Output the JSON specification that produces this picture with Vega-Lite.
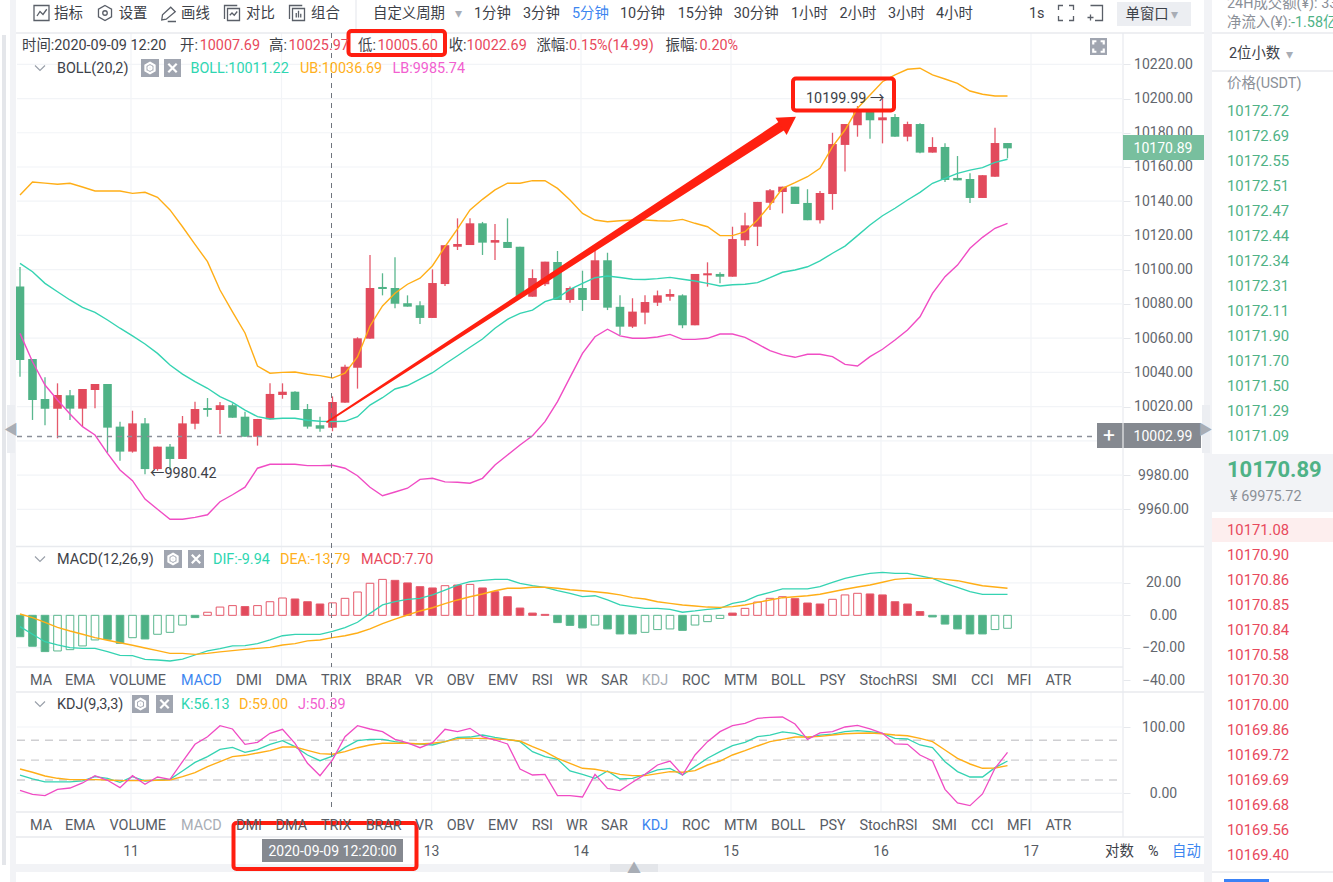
{
"$schema":"https://vega.github.io/schema/vega-lite/v6.json",
"width":1333,"height":882,"padding":0,"autosize":{"type":"none"},"background":"#ffffff",
"config":{"view":{"stroke":null},"text":{"font":"Roboto, 'Noto Sans CJK SC', sans-serif","dy":1},"axis":{"title":null,"grid":false,"domain":false,"labelFont":"Roboto","labelFontSize":14,"labelColor":"#63676e","tickColor":"#e6e8ec","tickSize":7,"labelAlign":"center","labelBaseline":"middle","labelPadding":33,"format":".2f","labelOverlap":false,"labelBound":false}},
"datasets":{
"bars":[
{"bar":0,"open":10090.1,"close":10047.2,"high":10101.6,"low":10037.5,"boll":10103.7,"ub":10143.6,"lb":10062.8,"macd":-13.2,"dif":-7,"dea":0.8,"k":27.6,"d":36.7,"j":4.5},
{"bar":1,"open":10047.8,"close":10023.9,"high":10047.8,"low":10012.2,"boll":10098.8,"ub":10151.2,"lb":10046.2,"macd":-19.1,"dif":-11.7,"dea":-1.4,"k":21.6,"d":31.7,"j":-1.5},
{"bar":2,"open":10024.4,"close":10018.8,"high":10037.1,"low":10009.1,"boll":10092,"ub":10150.6,"lb":10032.6,"macd":-22.4,"dif":-16.3,"dea":-4.3,"k":17.1,"d":26.1,"j":-3.5},
{"bar":3,"open":10018.8,"close":10026.8,"high":10033.6,"low":10001.5,"boll":10087.1,"ub":10149.9,"lb":10023.9,"macd":-22,"dif":-18.3,"dea":-7.4,"k":17.1,"d":22.6,"j":6,"hollow":true},
{"bar":4,"open":10026.6,"close":10018.8,"high":10029.7,"low":10012.2,"boll":10082.3,"ub":10150.5,"lb":10015.7,"macd":-21.2,"dif":-20,"dea":-9.7,"k":17.1,"d":20.6,"j":8,"hollow":true},
{"bar":5,"open":10018.8,"close":10030.3,"high":10030.3,"low":10008.3,"boll":10078,"ub":10148.3,"lb":10008.3,"macd":-18.9,"dif":-20.4,"dea":-11.7,"k":18.6,"d":20.6,"j":15.6,"hollow":true},
{"bar":6,"open":10029.7,"close":10033.2,"high":10033.2,"low":10019,"boll":10075.1,"ub":10146,"lb":10003.4,"macd":-15.2,"dif":-20.4,"dea":-13.8,"k":25.1,"d":20.6,"j":26.6,"hollow":true},
{"bar":7,"open":10033.2,"close":10007.7,"high":10033.2,"low":9993.1,"boll":10070.6,"ub":10146,"lb":9992.7,"macd":-14.8,"dif":-22.4,"dea":-15.4,"k":22.6,"d":20.1,"j":19.6},
{"bar":8,"open":10008.3,"close":9993.7,"high":10011.2,"low":9988.4,"boll":10065.8,"ub":10146,"lb":9983,"macd":-17.3,"dif":-24.7,"dea":-16.9,"k":16.6,"d":19.1,"j":8.5},
{"bar":9,"open":9993.7,"close":10010.2,"high":10017.6,"low":9993.1,"boll":10061.3,"ub":10144.6,"lb":9976.7,"macd":-13.8,"dif":-24.9,"dea":-18.5,"k":25.1,"d":19.1,"j":26.6,"hollow":true},
{"bar":10,"open":10010.2,"close":9983.5,"high":10013.3,"low":9980.42,"boll":10056.6,"ub":10145.2,"lb":9966,"macd":-14.6,"dif":-27.2,"dea":-20.2,"k":18.6,"d":19.1,"j":13.6},
{"bar":11,"open":9983.5,"close":9996.6,"high":9996.6,"low":9982.5,"boll":10051.1,"ub":10142.3,"lb":9960,"macd":-11.7,"dif":-27.6,"dea":-21.8,"k":20.1,"d":19.6,"j":24.6,"hollow":true},
{"bar":12,"open":9996.6,"close":9989.4,"high":9998.2,"low":9983,"boll":10044.3,"ub":10134.9,"lb":9954.2,"macd":-10.5,"dif":-28.2,"dea":-23.5,"k":21.1,"d":20.1,"j":21.1,"hollow":true},
{"bar":13,"open":9989.4,"close":10010.2,"high":10014.5,"low":9989.4,"boll":10039,"ub":10125.1,"lb":9954.2,"macd":-6,"dif":-27,"dea":-23.5,"k":33.7,"d":25.1,"j":47.7,"hollow":true},
{"bar":14,"open":10010,"close":10018.6,"high":10022.9,"low":10006.7,"boll":10034.6,"ub":10114.8,"lb":9955.3,"macd":-1.4,"dif":-24.5,"dea":-24.1,"k":46.7,"d":31.2,"j":73.9},
{"bar":15,"open":10019.2,"close":10018,"high":10025,"low":10014.1,"boll":10030.7,"ub":10104.7,"lb":9956.8,"macd":1.9,"dif":-22,"dea":-23.5,"k":55.3,"d":40.2,"j":85.4,"hollow":true},
{"bar":16,"open":10018,"close":10020.8,"high":10022.7,"low":10004,"boll":10025.8,"ub":10088.1,"lb":9964.4,"macd":5.1,"dif":-20.6,"dea":-22.6,"k":66.3,"d":47.7,"j":102,"hollow":true},
{"bar":17,"open":10020.8,"close":10013.5,"high":10021.9,"low":10013.5,"boll":10022.5,"ub":10075.4,"lb":9968.5,"macd":6,"dif":-18.9,"dea":-21.8,"k":69.3,"d":55.3,"j":97,"hollow":true},
{"bar":18,"open":10014.1,"close":10002.4,"high":10017,"low":10002.4,"boll":10018,"ub":10063,"lb":9972.9,"macd":5.4,"dif":-18.7,"dea":-21,"k":61.8,"d":57.3,"j":73.9},
{"bar":19,"open":10002.4,"close":10012.8,"high":10012.8,"low":9997.2,"boll":10014.1,"ub":10043.7,"lb":9984,"macd":6,"dif":-17.5,"dea":-20.4,"k":65.8,"d":60.8,"j":76.9,"hollow":true},
{"bar":20,"open":10012.6,"close":10027.4,"high":10033.6,"low":10012.6,"boll":10012.8,"ub":10039.5,"lb":9986.3,"macd":8.4,"dif":-15.2,"dea":-19.8,"k":73.9,"d":64.3,"j":90.5,"hollow":true},
{"bar":21,"open":10026.8,"close":10028.7,"high":10033.6,"low":10024.6,"boll":10013.2,"ub":10040,"lb":9986.3,"macd":10.7,"dif":-12.6,"dea":-18.3,"k":79.4,"d":69.8,"j":96.5,"hollow":true},
{"bar":22,"open":10028.7,"close":10018,"high":10029,"low":10018,"boll":10013.2,"ub":10040.2,"lb":9986.3,"macd":10.1,"dif":-11.7,"dea":-17.5,"k":70.4,"d":69.8,"j":75.4},
{"bar":23,"open":10018.6,"close":10008.3,"high":10021.5,"low":10007.1,"boll":10012,"ub":10038.9,"lb":9985.5,"macd":8.4,"dif":-11.7,"dea":-15.8,"k":57.8,"d":64.8,"j":45.2},
{"bar":24,"open":10009.1,"close":10007.1,"high":10014.1,"low":10005.3,"boll":10011.4,"ub":10038.1,"lb":9985.5,"macd":7,"dif":-11.7,"dea":-15.2,"k":49.2,"d":59.8,"j":26.6},
{"bar":25,"open":10007.69,"close":10022.69,"high":10025.97,"low":10005.6,"boll":10011.22,"ub":10036.69,"lb":9985.74,"macd":7.7,"dif":-9.94,"dea":-13.79,"k":56.13,"d":59,"j":50.39,"hollow":true},
{"bar":26,"open":10022.3,"close":10043.3,"high":10044.5,"low":10022.3,"boll":10011.4,"ub":10039.5,"lb":9984,"macd":10.5,"dif":-7.6,"dea":-12.6,"k":69.3,"d":62.8,"j":85.4,"hollow":true},
{"bar":27,"open":10042.7,"close":10059.9,"high":10060.5,"low":10030.5,"boll":10014.1,"ub":10049,"lb":9979.6,"macd":14.4,"dif":-4.3,"dea":-10.9,"k":79.4,"d":68.8,"j":102,"hollow":true},
{"bar":28,"open":10059.7,"close":10089.3,"high":10108.6,"low":10059.7,"boll":10020.9,"ub":10067.1,"lb":9972.9,"macd":19.8,"dif":1.2,"dea":-8.4,"k":81.4,"d":72.9,"j":97,"hollow":true},
{"bar":29,"open":10089.9,"close":10088.7,"high":10097.9,"low":10085,"boll":10025.2,"ub":10078.8,"lb":9967.9,"macd":22.2,"dif":6.4,"dea":-5.1,"k":81.4,"d":75.4,"j":93,"hollow":true},
{"bar":30,"open":10089.3,"close":10080.1,"high":10107.2,"low":10077.4,"boll":10030.3,"ub":10086.2,"lb":9970.1,"macd":21.6,"dif":8.4,"dea":-2.3,"k":77.9,"d":75.4,"j":81.4},
{"bar":31,"open":10080.4,"close":10078.4,"high":10085,"low":10078.4,"boll":10032.3,"ub":10091.5,"lb":9972.3,"macd":20,"dif":9.9,"dea":0.2,"k":75.4,"d":75.4,"j":75.9},
{"bar":32,"open":10079.2,"close":10071.8,"high":10081.5,"low":10068.3,"boll":10036,"ub":10095,"lb":9977.5,"macd":17.7,"dif":10.5,"dea":2.7,"k":74.4,"d":74.4,"j":68.8},
{"bar":33,"open":10071.8,"close":10092.2,"high":10100.2,"low":10071.8,"boll":10039.8,"ub":10102.3,"lb":9978.1,"macd":16.9,"dif":12.6,"dea":4.7,"k":72.9,"d":75.4,"j":76.4},
{"bar":34,"open":10091.6,"close":10114.3,"high":10114.3,"low":10090.5,"boll":10044.9,"ub":10113.4,"lb":9976,"macd":18.3,"dif":15.6,"dea":7.2,"k":77.9,"d":77.9,"j":96.5,"hollow":true},
{"bar":35,"open":10113.4,"close":10115,"high":10130,"low":10111.5,"boll":10049.7,"ub":10123.8,"lb":9975.8,"macd":18.7,"dif":18.7,"dea":9.5,"k":84.4,"d":82.4,"j":93},
{"bar":36,"open":10114.4,"close":10127.1,"high":10130,"low":10114.4,"boll":10054.7,"ub":10134.9,"lb":9975.2,"macd":19.1,"dif":20.8,"dea":11.5,"k":84.9,"d":82.9,"j":98,"hollow":true},
{"bar":37,"open":10127.1,"close":10115.8,"high":10127.9,"low":10108.6,"boll":10059.5,"ub":10141.1,"lb":9978.1,"macd":16.9,"dif":21.6,"dea":13.2,"k":87.9,"d":82.9,"j":85.4},
{"bar":38,"open":10115.8,"close":10117.3,"high":10126.7,"low":10105.7,"boll":10065.8,"ub":10146.6,"lb":9985.9,"macd":14.6,"dif":22.2,"dea":15.2,"k":84.4,"d":81.9,"j":80.4},
{"bar":39,"open":10116.2,"close":10112.7,"high":10130,"low":10112.7,"boll":10071,"ub":10150.5,"lb":9991.7,"macd":11.5,"dif":22.2,"dea":16.7,"k":81.4,"d":80.9,"j":74.4},
{"bar":40,"open":10113.4,"close":10084.2,"high":10113.4,"low":10084.2,"boll":10074.5,"ub":10150.5,"lb":9997.6,"macd":4.5,"dif":19.8,"dea":16.7,"k":77.9,"d":78.9,"j":36.7},
{"bar":41,"open":10084.2,"close":10095.1,"high":10100.2,"low":10084.2,"boll":10076.4,"ub":10152,"lb":10003,"macd":1.4,"dif":18.3,"dea":17.3,"k":62.8,"d":70.4,"j":27.6},
{"bar":42,"open":10091.5,"close":10104.7,"high":10104.7,"low":10090.5,"boll":10081.3,"ub":10152,"lb":10011.2,"macd":0.6,"dif":17.3,"dea":17.3,"k":55.3,"d":62.8,"j":28.6},
{"bar":43,"open":10104.5,"close":10082.3,"high":10110.9,"low":10082.3,"boll":10083.6,"ub":10147.5,"lb":10022.9,"macd":-4.5,"dif":15.2,"dea":16.7,"k":51.3,"d":52.8,"j":-3.5},
{"bar":44,"open":10082.3,"close":10089.3,"high":10090.1,"low":10080.7,"boll":10088.5,"ub":10140.7,"lb":10037.1,"macd":-6.2,"dif":13.6,"dea":15.8,"k":33.7,"d":45.2,"j":-3.5},
{"bar":45,"open":10089.3,"close":10082.3,"high":10099.4,"low":10075.9,"boll":10092,"ub":10132.9,"lb":10051.1,"macd":-7.8,"dif":11.5,"dea":15.2,"k":28.6,"d":37.7,"j":-5.5},
{"bar":46,"open":10082.3,"close":10105.5,"high":10111.9,"low":10082.3,"boll":10095.3,"ub":10129,"lb":10060.8,"macd":-6,"dif":12.1,"dea":14.6,"k":22.6,"d":36.2,"j":28.6,"hollow":true},
{"bar":47,"open":10105.5,"close":10077.8,"high":10109.9,"low":10076.4,"boll":10096.3,"ub":10128,"lb":10065.2,"macd":-8.4,"dif":9.5,"dea":13.8,"k":33.7,"d":32.7,"j":7.5},
{"bar":48,"open":10078.3,"close":10066.7,"high":10085,"low":10061.8,"boll":10095.4,"ub":10128.6,"lb":10061.3,"macd":-11.5,"dif":6.4,"dea":12.6,"k":21.6,"d":28.6,"j":4},
{"bar":49,"open":10066.7,"close":10075.5,"high":10083.3,"low":10065.9,"boll":10094.4,"ub":10129,"lb":10059.9,"macd":-11.5,"dif":5.4,"dea":10.9,"k":22.6,"d":26.6,"j":16.6},
{"bar":50,"open":10074.9,"close":10081.1,"high":10085,"low":10068.1,"boll":10094.3,"ub":10129,"lb":10059.9,"macd":-10.5,"dif":4.3,"dea":10.1,"k":28.6,"d":26.6,"j":28.6,"hollow":true},
{"bar":51,"open":10080.7,"close":10085,"high":10087.8,"low":10078.8,"boll":10094.8,"ub":10128.6,"lb":10060.7,"macd":-8.8,"dif":4.3,"dea":8.4,"k":35.2,"d":29.6,"j":42.7,"hollow":true},
{"bar":52,"open":10084.2,"close":10085.8,"high":10088.5,"low":10081.9,"boll":10095.5,"ub":10128.4,"lb":10062.2,"macd":-8.4,"dif":3.7,"dea":7.4,"k":37.7,"d":32.7,"j":48.7,"hollow":true},
{"bar":53,"open":10085,"close":10067.5,"high":10085.6,"low":10065.8,"boll":10094.4,"ub":10129.4,"lb":10059.3,"macd":-9.3,"dif":1.9,"dea":6.4,"k":27.6,"d":31.7,"j":27.6},
{"bar":54,"open":10067.5,"close":10097.5,"high":10097.5,"low":10067.5,"boll":10093.4,"ub":10127.1,"lb":10059.3,"macd":-6,"dif":2.7,"dea":5.8,"k":40.2,"d":34.2,"j":57.8,"hollow":true},
{"bar":55,"open":10096.7,"close":10097.9,"high":10104.3,"low":10090.1,"boll":10092,"ub":10125.1,"lb":10059.9,"macd":-3.9,"dif":3.7,"dea":5.1,"k":52.8,"d":42.7,"j":77.9,"hollow":true},
{"bar":56,"open":10097.5,"close":10095.9,"high":10098.5,"low":10092,"boll":10090.5,"ub":10119.9,"lb":10062.4,"macd":-1.9,"dif":4.3,"dea":4.9,"k":62.8,"d":48.7,"j":93,"hollow":true},
{"bar":57,"open":10095.9,"close":10117.9,"high":10125.1,"low":10095.9,"boll":10091.2,"ub":10119.9,"lb":10062.4,"macd":1.4,"dif":7.4,"dea":5.4,"k":71.9,"d":57.8,"j":102},
{"bar":58,"open":10117.2,"close":10125.9,"high":10133.3,"low":10113.8,"boll":10091.5,"ub":10122.2,"lb":10060.5,"macd":4.3,"dif":8.8,"dea":6.4,"k":76.9,"d":64.3,"j":105.5,"hollow":true},
{"bar":59,"open":10125.1,"close":10139.6,"high":10139.6,"low":10113.8,"boll":10092.4,"ub":10129,"lb":10056.6,"macd":8.2,"dif":12.1,"dea":8,"k":85.4,"d":71.4,"j":113.1,"hollow":true},
{"bar":60,"open":10139.1,"close":10146.4,"high":10147.1,"low":10134.9,"boll":10095.3,"ub":10137.8,"lb":10052.7,"macd":10.5,"dif":14.2,"dea":9.5,"k":87.9,"d":77.9,"j":114.6,"hollow":true},
{"bar":61,"open":10145.4,"close":10148.5,"high":10148.5,"low":10132.9,"boll":10098.5,"ub":10147.5,"lb":10050.2,"macd":11.5,"dif":16.3,"dea":10.9,"k":92.5,"d":81.4,"j":115.1,"hollow":true},
{"bar":62,"open":10148.5,"close":10138.4,"high":10148.5,"low":10138.4,"boll":10099.8,"ub":10150.8,"lb":10048.8,"macd":10.3,"dif":16.3,"dea":11.5,"k":90.5,"d":84.9,"j":104.5},
{"bar":63,"open":10139,"close":10128.9,"high":10147,"low":10128.9,"boll":10101.7,"ub":10154.3,"lb":10050.6,"macd":7.6,"dif":16.3,"dea":12.1,"k":83.9,"d":84.9,"j":81.4},
{"bar":64,"open":10128.9,"close":10144.8,"high":10146,"low":10127,"boll":10105.1,"ub":10159.2,"lb":10050.6,"macd":7,"dif":17.7,"dea":13,"k":87.9,"d":85.9,"j":91},
{"bar":65,"open":10144.2,"close":10173.4,"high":10180,"low":10135,"boll":10109.6,"ub":10171.9,"lb":10049.2,"macd":9.9,"dif":20.4,"dea":14.6,"k":89.4,"d":87.9,"j":93,"hollow":true},
{"bar":66,"open":10172.9,"close":10185.1,"high":10185.1,"low":10157.3,"boll":10113.8,"ub":10181.6,"lb":10044.7,"macd":12.6,"dif":22.8,"dea":16.1,"k":93,"d":89.9,"j":100,"hollow":true},
{"bar":67,"open":10184.4,"close":10193.7,"high":10195.6,"low":10177.7,"boll":10119.9,"ub":10194.3,"lb":10043.7,"macd":13.6,"dif":24.5,"dea":17.5,"k":94.5,"d":90.5,"j":102.5,"hollow":true},
{"bar":68,"open":10193.7,"close":10187.3,"high":10193.7,"low":10176.5,"boll":10126.1,"ub":10202.1,"lb":10049.2,"macd":13.2,"dif":25.9,"dea":18.7,"k":93,"d":91,"j":97},
{"bar":69,"open":10187.3,"close":10189,"high":10199.99,"low":10173.8,"boll":10131.5,"ub":10209.8,"lb":10053.5,"macd":12.6,"dif":26.5,"dea":20.4,"k":90.5,"d":89.9,"j":90.5},
{"bar":70,"open":10189.2,"close":10177.7,"high":10191,"low":10177.7,"boll":10135.9,"ub":10213.8,"lb":10058.9,"macd":8.4,"dif":25.9,"dea":22.2,"k":82.9,"d":87.9,"j":74.4},
{"bar":71,"open":10177.7,"close":10185.1,"high":10186.5,"low":10175,"boll":10140.7,"ub":10217.1,"lb":10064.8,"macd":7,"dif":25.9,"dea":22.8,"k":81.9,"d":86.9,"j":73.9},
{"bar":72,"open":10185.1,"close":10168.4,"high":10185.5,"low":10168,"boll":10145.2,"ub":10217.7,"lb":10072.5,"macd":2.3,"dif":24.3,"dea":22.8,"k":72.9,"d":82.9,"j":57.8},
{"bar":73,"open":10168.4,"close":10171.7,"high":10177.4,"low":10168.4,"boll":10150.5,"ub":10213.8,"lb":10086.2,"macd":-1,"dif":22.8,"dea":22.8,"k":68.8,"d":77.9,"j":48.7},
{"bar":74,"open":10171.7,"close":10152.4,"high":10173.8,"low":10151.2,"boll":10153.4,"ub":10211.4,"lb":10095.9,"macd":-5.4,"dif":19.8,"dea":22.2,"k":47.7,"d":65.3,"j":6},
{"bar":75,"open":10153.6,"close":10152.2,"high":10166.4,"low":10152.2,"boll":10156.3,"ub":10208.9,"lb":10102.7,"macd":-8.4,"dif":17.3,"dea":21.4,"k":32.7,"d":52.8,"j":-14.6},
{"bar":76,"open":10153,"close":10141.9,"high":10156.3,"low":10139,"boll":10158.2,"ub":10204.4,"lb":10112.5,"macd":-11.5,"dif":14.6,"dea":19.8,"k":24.6,"d":44.2,"j":-18.6},
{"bar":77,"open":10141.9,"close":10155.2,"high":10155.2,"low":10141.9,"boll":10159.6,"ub":10202.5,"lb":10118.9,"macd":-11.5,"dif":13,"dea":18.3,"k":24.6,"d":37.7,"j":-1},
{"bar":78,"open":10154.3,"close":10174,"high":10183,"low":10154.3,"boll":10162.7,"ub":10201.5,"lb":10124.2,"macd":-8.8,"dif":13,"dea":17.5,"k":38.7,"d":38.2,"j":37.7,"hollow":true},
{"bar":79,"open":10174,"close":10170.89,"high":10174,"low":10165.1,"boll":10164.5,"ub":10201.5,"lb":10127.1,"macd":-8,"dif":13,"dea":16.7,"k":48.7,"d":41.7,"j":61.8,"hollow":true}
]
},
"encoding":{"x":{"field":"bar","type":"quantitative","axis":null,"scale":{"domain":[-1.6,105.04],"nice":false,"zero":false,"padding":0}}},
"resolve":{"scale":{"y":"independent"}},
"layer":[
{"encoding":{"y":{"field":"row","type":"quantitative","axis":null,"scale":{"domain":[0,882],"range":[0,882],"nice":false,"zero":false}}},
 "layer":[
 {"data":{"values":[{"bar":95.36,"bar2":105.04,"row":518,"row2":542}]},"mark":{"type":"rect","fill":"#fdeeee"},"encoding":{"x2":{"field":"bar2"},"y2":{"field":"row2"}}},
 {"data":{"values":[{"bar":8.88,"row":33,"row2":667},{"bar":20.92,"row":33,"row2":667},{"bar":32.93,"row":33,"row2":667},{"bar":44.88,"row":33,"row2":667},{"bar":56.88,"row":33,"row2":667},{"bar":68.88,"row":33,"row2":667},{"bar":80.88,"row":33,"row2":667},{"bar":8.88,"row":692,"row2":812},{"bar":20.92,"row":692,"row2":812},{"bar":32.93,"row":692,"row2":812},{"bar":44.88,"row":692,"row2":812},{"bar":56.88,"row":692,"row2":812},{"bar":68.88,"row":692,"row2":812},{"bar":80.88,"row":692,"row2":812}]},
  "mark":{"type":"rule","color":"#f2f4f7","strokeWidth":1.2},"encoding":{"y2":{"field":"row2"}}},
 {"data":{"values":[{"bar":-0.32,"bar2":94.72,"row":33},{"bar":95.36,"bar2":105.04,"row":33},{"bar":95.36,"bar2":105.04,"row":71},{"bar":95.36,"bar2":105.04,"row":872},{"bar":-0.32,"bar2":94.72,"row":546.5},{"bar":-0.32,"bar2":88.24,"row":667},{"bar":-0.32,"bar2":94.72,"row":692},{"bar":-0.32,"bar2":88.24,"row":812},{"bar":-0.32,"bar2":94.72,"row":837}]},
  "mark":{"type":"rule","color":"#e8eaee","strokeWidth":1.5},"encoding":{"x2":{"field":"bar2"}}},
 {"data":{"values":[{"bar":88.24,"row":33,"row2":837},{"bar":26.88,"row":0,"row2":33}]},"mark":{"type":"rule","color":"#e8eaee","strokeWidth":1.2},"encoding":{"y2":{"field":"row2"}}}
 ]},
{"data":{"values":[{"price":9960,"bar":-0.24,"bar2":88.24},{"price":9980,"bar":-0.24,"bar2":88.24},{"price":10000,"bar":-0.24,"bar2":88.24},{"price":10020,"bar":-0.24,"bar2":88.24},{"price":10040,"bar":-0.24,"bar2":88.24},{"price":10060,"bar":-0.24,"bar2":88.24},{"price":10080,"bar":-0.24,"bar2":88.24},{"price":10100,"bar":-0.24,"bar2":88.24},{"price":10120,"bar":-0.24,"bar2":88.24},{"price":10140,"bar":-0.24,"bar2":88.24},{"price":10160,"bar":-0.24,"bar2":88.24},{"price":10180,"bar":-0.24,"bar2":88.24},{"price":10200,"bar":-0.24,"bar2":88.24},{"price":10220,"bar":-0.24,"bar2":88.24}]},
  "mark":{"type":"rule","color":"#f2f4f7","strokeWidth":1.2},
  "encoding":{"x2":{"field":"bar2"},"y":{"field":"price","type":"quantitative","scale":{"domain":[9938.55,10238.29],"range":[546,33],"nice":false,"zero":false},"axis":{"orient":"right","offset":-210,"values":[9960,9980,10000,10020,10040,10060,10080,10100,10120,10140,10160,10180,10200,10220]}}}},
{"data":{"values":[{"macd":-20,"bar":-0.24,"bar2":88.24},{"macd":0,"bar":-0.24,"bar2":88.24},{"macd":20,"bar":-0.24,"bar2":88.24}]},"mark":{"type":"rule","color":"#f2f4f7","strokeWidth":1.2},
  "encoding":{"x2":{"field":"bar2"},"y":{"field":"macd","type":"quantitative","scale":{"domain":[-40,42.2],"range":[680.1,547],"nice":false,"zero":false},"axis":{"orient":"right","offset":-210,"values":[-40,-20,0,20]}}}},
{"data":{"values":[{"k":0,"bar":-0.24,"bar2":88.24},{"k":100,"bar":-0.24,"bar2":88.24}]},"mark":{"type":"rule","color":"#f2f4f7","strokeWidth":1.2},
  "encoding":{"x2":{"field":"bar2"},"y":{"field":"k","type":"quantitative","scale":{"domain":[-28.2,152.8],"range":[812,692],"nice":false,"zero":false},"axis":{"orient":"right","offset":-210,"values":[0,100]}}}},
{"encoding":{"y":{"field":"price","type":"quantitative","axis":null,"scale":{"domain":[9938.55,10238.29],"range":[546,33],"nice":false,"zero":false}}},
 "layer":[
 {"data":{"name":"bars"},"mark":{"type":"rule","strokeWidth":1.3},"encoding":{"y":{"field":"low","type":"quantitative","axis":null},"y2":{"field":"high"},"color":{"condition":{"test":"datum.close>=datum.open","value":"#e5596b"},"value":"#5ab78e"}}},
 {"data":{"name":"bars"},"mark":{"type":"bar","width":8.6},"encoding":{"y":{"field":"open","type":"quantitative","axis":null},"y2":{"field":"close"},"color":{"condition":{"test":"datum.close>=datum.open","value":"#e24a5c"},"value":"#4fb286"}}},
 {"data":{"name":"bars"},"mark":{"type":"line","color":"#ffae17","strokeWidth":1.4},"encoding":{"y":{"field":"ub","type":"quantitative","axis":null}}},
 {"data":{"name":"bars"},"mark":{"type":"line","color":"#35d3b2","strokeWidth":1.4},"encoding":{"y":{"field":"boll","type":"quantitative","axis":null}}},
 {"data":{"name":"bars"},"mark":{"type":"line","color":"#f04cc4","strokeWidth":1.4},"encoding":{"y":{"field":"lb","type":"quantitative","axis":null}}},
 {"data":{"values":[{"bar":24.56,"price":10011,"taper":1.5},{"bar":61.04,"price":10184.5,"taper":10}]},
  "mark":{"type":"trail","color":"#ff2010"},
  "encoding":{"size":{"field":"taper","type":"quantitative","legend":null,"scale":{"domain":[0,20],"range":[0,20],"zero":false}}}},
 {"data":{"values":[{"bar":61.48,"price":10186.6}]},
  "mark":{"type":"point","shape":"triangle-up","filled":true,"angle":57,"size":420,"color":"#ff2010","opacity":1}}
 ]},
{"encoding":{"y":{"field":"macd","type":"quantitative","axis":null,"scale":{"domain":[-40,42.2],"range":[680.1,547],"nice":false,"zero":false}}},
 "layer":[
 {"data":{"name":"bars"},"mark":{"type":"bar","width":7.6,"strokeWidth":1},
  "encoding":{"y2":{"datum":0},
   "fill":{"condition":[{"test":"datum.hollow","value":"#ffffff"},{"test":"datum.macd>=0","value":"#e24a5c"}],"value":"#4fb286"},
   "stroke":{"condition":{"test":"datum.macd>=0","value":"#e5596b"},"value":"#5ab78e"}}},
 {"data":{"name":"bars"},"mark":{"type":"line","color":"#35d3b2","strokeWidth":1.3},"encoding":{"y":{"field":"dif","type":"quantitative","axis":null}}},
 {"data":{"name":"bars"},"mark":{"type":"line","color":"#ffae17","strokeWidth":1.4},"encoding":{"y":{"field":"dea","type":"quantitative","axis":null}}}
 ]},
{"encoding":{"y":{"field":"k","type":"quantitative","axis":null,"scale":{"domain":[-28.2,152.8],"range":[812,692],"nice":false,"zero":false}}},
 "layer":[
 {"data":{"values":[{"k":20,"bar":-0.24,"bar2":87.84},{"k":50,"bar":-0.24,"bar2":87.84},{"k":80,"bar":-0.24,"bar2":87.84}]},"mark":{"type":"rule","color":"#cfcfd2","strokeWidth":1.4,"strokeDash":[8,6]},
  "encoding":{"x2":{"field":"bar2"}}},
 {"data":{"name":"bars"},"mark":{"type":"line","color":"#35d3b2","strokeWidth":1.3}},
 {"data":{"name":"bars"},"mark":{"type":"line","color":"#ffae17","strokeWidth":1.4},"encoding":{"y":{"field":"d","type":"quantitative","axis":null}}},
 {"data":{"name":"bars"},"mark":{"type":"line","color":"#f04cc4","strokeWidth":1.3},"encoding":{"y":{"field":"j","type":"quantitative","axis":null}}}
 ]},
{"data":{"values":[{"price":"10172.72","rank":0,"bar":96.56},{"price":"10172.69","rank":1,"bar":96.56},{"price":"10172.55","rank":2,"bar":96.56},{"price":"10172.51","rank":3,"bar":96.56},{"price":"10172.47","rank":4,"bar":96.56},{"price":"10172.44","rank":5,"bar":96.56},{"price":"10172.34","rank":6,"bar":96.56},{"price":"10172.31","rank":7,"bar":96.56},{"price":"10172.11","rank":8,"bar":96.56},{"price":"10171.90","rank":9,"bar":96.56},{"price":"10171.70","rank":10,"bar":96.56},{"price":"10171.50","rank":11,"bar":96.56},{"price":"10171.29","rank":12,"bar":96.56},{"price":"10171.09","rank":13,"bar":96.56}]},
 "mark":{"type":"text","align":"left","baseline":"middle","fontSize":14.8,"color":"#4fb286"},
 "encoding":{"y":{"field":"rank","type":"quantitative","axis":null,"scale":{"domain":[0,13],"range":[111,436],"nice":false,"zero":false}},"text":{"field":"price"}}},
{"data":{"values":[{"price":"10171.08","rank":0,"bar":96.56},{"price":"10170.90","rank":1,"bar":96.56},{"price":"10170.86","rank":2,"bar":96.56},{"price":"10170.85","rank":3,"bar":96.56},{"price":"10170.84","rank":4,"bar":96.56},{"price":"10170.58","rank":5,"bar":96.56},{"price":"10170.30","rank":6,"bar":96.56},{"price":"10170.00","rank":7,"bar":96.56},{"price":"10169.86","rank":8,"bar":96.56},{"price":"10169.72","rank":9,"bar":96.56},{"price":"10169.69","rank":10,"bar":96.56},{"price":"10169.68","rank":11,"bar":96.56},{"price":"10169.56","rank":12,"bar":96.56},{"price":"10169.40","rank":13,"bar":96.56}]},
 "mark":{"type":"text","align":"left","baseline":"middle","fontSize":14.8,"color":"#e8495c"},
 "encoding":{"y":{"field":"rank","type":"quantitative","axis":null,"scale":{"domain":[0,13],"range":[530,855],"nice":false,"zero":false}},"text":{"field":"price"}}},
{"encoding":{"y":{"field":"row","type":"quantitative","axis":null,"scale":{"domain":[0,882],"range":[0,882],"nice":false,"zero":false}}},
 "layer":[
 {"data":{"values":[{"bar":24.92,"row":33,"row2":667},{"bar":24.92,"row":692,"row2":812}]},"mark":{"type":"rule","color":"#70757e","strokeDash":[5,5]},"encoding":{"y2":{"field":"row2"}}},
 {"data":{"values":[{"bar":-0.24,"bar2":86.2,"row":436.6}]},"mark":{"type":"rule","color":"#8a8f99","strokeDash":[5,5],"strokeWidth":1.5},"encoding":{"x2":{"field":"bar2"}}},
 {"data":{"values":[
  {"bar":-0.8,"bar2":-0.32,"row":0,"row2":882,"part":"strip"},{"bar":94.72,"bar2":95.36,"row":0,"row2":882,"part":"strip"},{"bar":-0.32,"bar2":94.72,"row":864,"row2":872,"part":"strip"},{"bar":95.36,"bar2":105.04,"row":454,"row2":512,"part":"strip"},
  {"bar":-1.44,"bar2":-1.12,"row":35,"row2":865,"part":"gutter"},{"bar":-1.04,"bar2":-0.4,"row":405,"row2":453,"part":"handle"},{"bar":94.56,"bar2":95.2,"row":405,"row2":453,"part":"handle"},{"bar":47.2,"bar2":51.04,"row":864,"row2":872,"part":"gutter"},
  {"bar":87.76,"bar2":93.68,"row":2,"row2":26,"part":"handle"},
  {"bar":9.68,"bar2":11.12,"row":59,"row2":77,"part":"tile"},{"bar":11.52,"bar2":12.88,"row":59,"row2":77,"part":"tile"},{"bar":11.52,"bar2":12.96,"row":550,"row2":568,"part":"tile"},{"bar":13.44,"bar2":14.72,"row":550,"row2":568,"part":"tile"},{"bar":8.96,"bar2":10.32,"row":695,"row2":713,"part":"tile"},{"bar":10.88,"bar2":12.24,"row":695,"row2":713,"part":"tile"},{"bar":85.6,"bar2":86.96,"row":38,"row2":55,"part":"tile"},
  {"bar":19.36,"bar2":30.64,"row":839,"row2":862,"part":"tag"},{"bar":86.16,"bar2":94.48,"row":423,"row2":448,"part":"tag"},{"bar":88.24,"bar2":94.72,"row":135,"row2":160,"part":"last"},{"bar":96.32,"bar2":99.92,"row":879,"row2":882,"part":"tabline"}]},
  "mark":{"type":"rect"},"encoding":{"x2":{"field":"bar2"},"y2":{"field":"row2"},"fill":{"field":"part","type":"nominal","legend":null,"scale":{"domain":["strip","gutter","handle","tile","tag","last","tabline"],"range":["#f2f3f6","#e4e6ea","#eceef2","#a0a5b0","#858990","#78bf9e","#3b82f6"]}}}},
 {"data":{"values":[{"bar":88.24,"row":423,"row2":448}]},"mark":{"type":"rule","color":"#ffffff"},"encoding":{"y2":{"field":"row2"}}},
 {"data":{"values":[{"bar":26.28,"bar2":34,"row":31,"row2":55},{"bar":61.84,"bar2":69.92,"row":78.5,"row2":110.5},{"bar":17.08,"bar2":31.72,"row":823,"row2":869}]},
  "mark":{"type":"rect","fill":null,"stroke":"#ff1e10","strokeWidth":4,"cornerRadius":3},"encoding":{"x2":{"field":"bar2"},"y2":{"field":"row2"}}},
 {"data":{"values":[{"bar":1.72,"row":13,"icon":"chart"},{"bar":6.8,"row":13,"icon":"hex"},{"bar":11.88,"row":14,"icon":"pen"},{"bar":16.96,"row":13,"icon":"compare"},{"bar":22.16,"row":13,"icon":"combo"},{"bar":83.68,"row":13,"icon":"expand"},{"bar":86,"row":13,"icon":"window"}]},
  "mark":{"type":"point","size":225,"filled":false,"color":"#5a5f68","strokeWidth":1.3,"opacity":1},
  "encoding":{"shape":{"field":"icon","type":"nominal","legend":null,"scale":{"domain":["chart","hex","pen","compare","combo","expand","window","chevron","gear","cross"],"range":["M-1,-1H1V1H-1Z M-0.6,0.4L-0.2,-0.2L0.2,0.2L0.7,-0.5","M0,-1L0.87,-0.5V0.5L0,1L-0.87,0.5V-0.5Z M0.3,0A0.3,0.3 0 1 1 -0.3,0A0.3,0.3 0 1 1 0.3,0","M0.3,-0.9L0.9,-0.3L-0.3,0.7L-0.9,0.8L-0.8,0.1Z M-0.1,1H1","M-1,0.8V-1H0.7 M-0.6,-0.6H1V1H-0.6Z M-0.3,0.3L0,0L0.3,0.3L0.7,-0.2","M-1,0.8V-1H0.7 M-0.6,-0.6H1V1H-0.6Z M-0.1,0.6V0 M0.2,0.6V-0.3 M0.5,0.6V0.1","M-1,-0.4V-1H-0.4 M0.4,-1H1V-0.4 M1,0.4V1H0.4 M-0.4,1H-1V0.4","M-0.6,-1H1V1H0 M-1,0.6H-0.2 M-0.6,0.2V1","M-1,-0.5L0,0.5L1,-0.5","M0,-1L0.87,-0.5V0.5L0,1L-0.87,0.5V-0.5Z M0.3,0A0.3,0.3 0 1 1 -0.3,0A0.3,0.3 0 1 1 0.3,0","M-0.8,-0.8L0.8,0.8M0.8,-0.8L-0.8,0.8"]}}}},
 {"data":{"values":[{"bar":1.6,"row":68,"icon":"chevron"},{"bar":1.6,"row":559,"icon":"chevron"},{"bar":1.6,"row":704,"icon":"chevron"}]},
  "mark":{"type":"point","size":100,"filled":false,"color":"#9aa0aa","strokeWidth":1.2,"opacity":1},"encoding":{"shape":{"field":"icon","type":"nominal","legend":null}}},
 {"data":{"values":[{"bar":10.4,"row":68,"icon":"gear"},{"bar":12.2,"row":68,"icon":"cross"},{"bar":12.24,"row":559,"icon":"gear"},{"bar":14.08,"row":559,"icon":"cross"},{"bar":9.64,"row":704,"icon":"gear"},{"bar":11.56,"row":704,"icon":"cross"},{"bar":86.28,"row":46.5,"icon":"expand"}]},
  "mark":{"type":"point","size":110,"filled":false,"color":"#ffffff","strokeWidth":2.2,"opacity":1},"encoding":{"shape":{"field":"icon","type":"nominal","legend":null}}},
 {"data":{"values":[{"label":"+","bar":87.12,"row":435}]},"mark":{"type":"text","align":"center","baseline":"middle","fontSize":21,"color":"#ffffff"},"encoding":{"text":{"field":"label"}}},
 {"data":{"values":[
  {"label":"10002.99","bar":91.44,"row":436,"tone":"white"},{"label":"10170.89","bar":91.44,"row":148,"tone":"white"},{"label":"2020-09-09 12:20:00","bar":25,"row":850.5,"tone":"white"},
  {"label":"11","bar":8.88,"row":851,"tone":"tab"},{"label":"13","bar":32.93,"row":851,"tone":"tab"},{"label":"14","bar":44.88,"row":851,"tone":"tab"},{"label":"15","bar":56.88,"row":851,"tone":"tab"},{"label":"16","bar":68.88,"row":851,"tone":"tab"},{"label":"17","bar":80.88,"row":851,"tone":"tab"},
  {"label":"◀","bar":-0.72,"row":429,"tone":"faint"},{"label":"▶","bar":94.84,"row":429,"tone":"faint"},{"label":"▲","bar":49.12,"row":868,"tone":"faint"}]},
  "mark":{"type":"text","align":"center","baseline":"middle","fontSize":14},
  "encoding":{"text":{"field":"label"},"color":{"field":"tone","type":"nominal","legend":null,"scale":{"domain":["ink","tab","muted","faint","up","down","blue","teal","amber","pink","white"],"range":["#3d4148","#585c64","#8b9098","#a8adb5","#4fb286","#e8495c","#3d86f0","#2ed6b1","#ffb020","#f25fd0","#ffffff"]}}}},
 {"data":{"values":[
  {"label":"指标","bar":2.72,"row":13,"tone":"ink"},{"label":"设置","bar":7.89,"row":13,"tone":"ink"},{"label":"画线","bar":12.88,"row":13,"tone":"ink"},{"label":"对比","bar":18.08,"row":13,"tone":"ink"},{"label":"组合","bar":23.28,"row":13,"tone":"ink"},{"label":"自定义周期","bar":28.24,"row":13,"tone":"ink"},{"label":"▾","bar":34.8,"row":13,"tone":"faint"},{"label":"1分钟","bar":36.32,"row":13,"tone":"ink"},{"label":"3分钟","bar":40.24,"row":13,"tone":"ink"},{"label":"5分钟","bar":44.16,"row":13,"tone":"blue"},{"label":"10分钟","bar":48,"row":13,"tone":"ink"},{"label":"15分钟","bar":52.62,"row":13,"tone":"ink"},{"label":"30分钟","bar":57.09,"row":13,"tone":"ink"},{"label":"1小时","bar":61.68,"row":13,"tone":"ink"},{"label":"2小时","bar":65.56,"row":13,"tone":"ink"},{"label":"3小时","bar":69.44,"row":13,"tone":"ink"},{"label":"4小时","bar":73.28,"row":13,"tone":"ink"},{"label":"1s","bar":80.72,"row":13,"tone":"ink"},{"label":"单窗口","bar":88.44,"row":14,"tone":"ink"},{"label":"▾","bar":92.04,"row":14,"tone":"faint"},
  {"label":"时间:2020-09-09 12:20","bar":0.16,"row":45,"tone":"ink"},{"label":"开:","bar":12.8,"row":45,"tone":"ink"},{"label":"10007.69","bar":14.37,"row":45,"tone":"down"},{"label":"高:","bar":19.92,"row":45,"tone":"ink"},{"label":"10025.97","bar":21.48,"row":45,"tone":"down"},{"label":"低:","bar":27.04,"row":45,"tone":"ink"},{"label":"10005.60","bar":28.6,"row":45,"tone":"down"},{"label":"收:","bar":34.29,"row":45,"tone":"ink"},{"label":"10022.69","bar":35.71,"row":45,"tone":"down"},{"label":"涨幅:","bar":41.31,"row":45,"tone":"ink"},{"label":"0.15%(14.99)","bar":43.92,"row":45,"tone":"down"},{"label":"振幅:","bar":51.64,"row":45,"tone":"ink"},{"label":"0.20%","bar":54.36,"row":45,"tone":"down"},
  {"label":"BOLL(20,2)","bar":2.96,"row":68,"tone":"ink"},{"label":"BOLL:10011.22","bar":13.64,"row":68,"tone":"teal"},{"label":"UB:10036.69","bar":22.4,"row":68,"tone":"amber"},{"label":"LB:9985.74","bar":29.8,"row":68,"tone":"pink"},
  {"label":"MACD(12,26,9)","bar":2.96,"row":559,"tone":"ink"},{"label":"DIF:-9.94","bar":15.44,"row":559,"tone":"teal"},{"label":"DEA:-13.79","bar":20.8,"row":559,"tone":"amber"},{"label":"MACD:7.70","bar":27.28,"row":559,"tone":"down"},
  {"label":"KDJ(9,3,3)","bar":2.96,"row":704,"tone":"ink"},{"label":"K:56.13","bar":12.88,"row":704,"tone":"teal"},{"label":"D:59.00","bar":17.52,"row":704,"tone":"amber"},{"label":"J:50.39","bar":22.24,"row":704,"tone":"pink"},
  {"label":"←9980.42","bar":10.4,"row":473,"tone":"ink"},{"label":"10199.99 →","bar":62.88,"row":98,"tone":"ink"},
  {"label":"对数","bar":86.8,"row":851,"tone":"ink"},{"label":"%","bar":90.24,"row":851,"tone":"ink"},{"label":"自动","bar":92.16,"row":851,"tone":"blue"},
  {"label":"24H成交额(¥): 33.","bar":96.56,"row":3,"tone":"muted"},{"label":"净流入(¥):","bar":96.56,"row":22,"tone":"muted"},{"label":"-1.58亿","bar":101.68,"row":22,"tone":"up"},{"label":"2位小数","bar":96.72,"row":53,"tone":"ink"},{"label":"▾","bar":101.28,"row":54,"tone":"faint"},{"label":"价格(USDT)","bar":96.56,"row":83,"tone":"muted"},{"label":"¥ 69975.72","bar":96.8,"row":496,"tone":"muted"},
  {"label":"MA","bar":0.8,"row":680,"tone":"tab"},{"label":"EMA","bar":3.6,"row":680,"tone":"tab"},{"label":"VOLUME","bar":7.16,"row":680,"tone":"tab"},{"label":"MACD","bar":12.88,"row":680,"tone":"blue"},{"label":"DMI","bar":17.28,"row":680,"tone":"tab"},{"label":"DMA","bar":20.44,"row":680,"tone":"tab"},{"label":"TRIX","bar":24.08,"row":680,"tone":"tab"},{"label":"BRAR","bar":27.65,"row":680,"tone":"tab"},{"label":"VR","bar":31.6,"row":680,"tone":"tab"},{"label":"OBV","bar":34.13,"row":680,"tone":"tab"},{"label":"EMV","bar":37.44,"row":680,"tone":"tab"},{"label":"RSI","bar":40.93,"row":680,"tone":"tab"},{"label":"WR","bar":43.68,"row":680,"tone":"tab"},{"label":"SAR","bar":46.48,"row":680,"tone":"tab"},{"label":"KDJ","bar":49.74,"row":680,"tone":"faint"},{"label":"ROC","bar":52.96,"row":680,"tone":"tab"},{"label":"MTM","bar":56.32,"row":680,"tone":"tab"},{"label":"BOLL","bar":60.08,"row":680,"tone":"tab"},{"label":"PSY","bar":63.96,"row":680,"tone":"tab"},{"label":"StochRSI","bar":67.16,"row":680,"tone":"tab"},{"label":"SMI","bar":72.96,"row":680,"tone":"tab"},{"label":"CCI","bar":76.08,"row":680,"tone":"tab"},{"label":"MFI","bar":78.96,"row":680,"tone":"tab"},{"label":"ATR","bar":82.04,"row":680,"tone":"tab"},
  {"label":"MA","bar":0.8,"row":825,"tone":"tab"},{"label":"EMA","bar":3.6,"row":825,"tone":"tab"},{"label":"VOLUME","bar":7.16,"row":825,"tone":"tab"},{"label":"MACD","bar":12.88,"row":825,"tone":"faint"},{"label":"DMI","bar":17.28,"row":825,"tone":"tab"},{"label":"DMA","bar":20.44,"row":825,"tone":"tab"},{"label":"TRIX","bar":24.08,"row":825,"tone":"tab"},{"label":"BRAR","bar":27.65,"row":825,"tone":"tab"},{"label":"VR","bar":31.6,"row":825,"tone":"tab"},{"label":"OBV","bar":34.13,"row":825,"tone":"tab"},{"label":"EMV","bar":37.44,"row":825,"tone":"tab"},{"label":"RSI","bar":40.93,"row":825,"tone":"tab"},{"label":"WR","bar":43.68,"row":825,"tone":"tab"},{"label":"SAR","bar":46.48,"row":825,"tone":"tab"},{"label":"KDJ","bar":49.74,"row":825,"tone":"blue"},{"label":"ROC","bar":52.96,"row":825,"tone":"tab"},{"label":"MTM","bar":56.32,"row":825,"tone":"tab"},{"label":"BOLL","bar":60.08,"row":825,"tone":"tab"},{"label":"PSY","bar":63.96,"row":825,"tone":"tab"},{"label":"StochRSI","bar":67.16,"row":825,"tone":"tab"},{"label":"SMI","bar":72.96,"row":825,"tone":"tab"},{"label":"CCI","bar":76.08,"row":825,"tone":"tab"},{"label":"MFI","bar":78.96,"row":825,"tone":"tab"},{"label":"ATR","bar":82.04,"row":825,"tone":"tab"}]},
  "mark":{"type":"text","align":"left","baseline":"middle","fontSize":14.4},
  "encoding":{"text":{"field":"label"},"color":{"field":"tone","type":"nominal","legend":null}}},
 {"data":{"values":[{"label":"10170.89","bar":96.56,"row":469}]},"mark":{"type":"text","align":"left","baseline":"middle","fontSize":22,"fontWeight":"bold","color":"#4fb286"},"encoding":{"text":{"field":"label"}}}
 ]}
]}
